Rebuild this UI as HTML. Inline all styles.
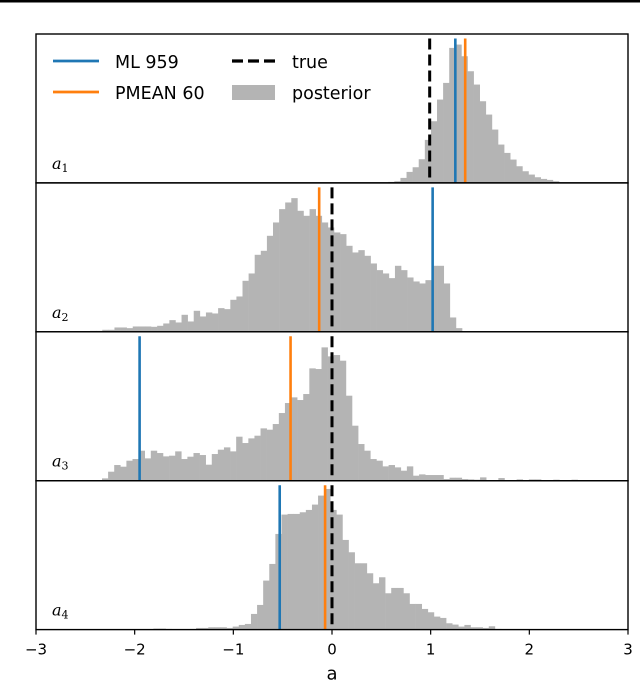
<!DOCTYPE html>
<html><head><meta charset="utf-8"><style>
html,body{margin:0;padding:0;background:#fff;}
svg{display:block;font-family:"DejaVu Sans","Liberation Sans",sans-serif;}
</style></head><body>
<svg id="chart" width="640" height="686" viewBox="0 0 640 686" xmlns="http://www.w3.org/2000/svg">
<rect x="0" y="0" width="640" height="2.5" fill="#000"/>
</svg>
<script>
const binWidth = 0.0618;
const panelNames = ["a1","a2","a3","a4"];
const binStarts = [0.570, -2.452, -2.331, -1.810];
const counts1 = [3,5,15,33,47,71,129,185,250,300,405,415,380,335,295,245,205,160,115,90,70,50,35,25,17,12,9,5];
const counts2 = [3,3,6,6,13,13,11,16,16,16,15,18,25,35,28,51,31,63,46,58,55,71,68,96,106,153,175,231,243,288,328,368,388,401,363,348,368,348,328,313,298,293,258,238,245,228,205,185,175,161,198,185,163,151,145,155,198,198,145,43,11];
const counts3 = [7,27,47,42,60,65,90,67,90,83,73,75,88,65,72,83,77,48,80,93,100,88,132,113,127,135,157,153,170,203,233,250,242,260,337,335,400,373,377,360,255,165,110,90,65,60,43,47,40,30,43,15,19,17,17,17,5,9,9,5,4,3,10,2,2,8,2,2,4,2,4,4,2,2,3,1,1,3];
const counts4 = [3,3,2,1,1,1,2,5,5,7,7,7,5,9,14,17,47,74,147,197,287,345,347,347,352,359,375,402,422,359,345,269,232,199,199,169,139,157,109,125,125,109,77,77,62,52,39,35,19,15,9,14,7,7,5,10,2];
const mlValues = [1.25, 1.02, -1.95, -0.53];
const pmeanValues = [1.35, -0.13, -0.42, -0.07];
const trueValues = [0.99, 0, 0, 0];
const xTicks = [-3,-2,-1,0,1,2,3];
const xTickLabels = ["\u22123","\u22122","\u22121","0","1","2","3"];
const allCounts = [counts1, counts2, counts3, counts4];

const NS = "http://www.w3.org/2000/svg";
const svg = document.getElementById("chart");
const X0 = 36, X1 = 628, PT = 34, PH = 148.9;
function xs(v){ return X0 + (v + 3) / 6 * (X1 - X0); }
function ys(c, bottom){ return bottom - c / 3; }
function mk(tag, attrs){ const e = document.createElementNS(NS, tag); for (const k in attrs) e.setAttribute(k, attrs[k]); svg.appendChild(e); return e; }

for (let p = 0; p < 4; p++) {
  const top = PT + p * PH, bottom = top + PH;
  const g = mk("g", {});
  
  
  const cs = allCounts[p];
  for (let i = 0; i < cs.length; i++) {
    const xl = xs(binStarts[p] + i * binWidth), xr = xs(binStarts[p] + (i + 1) * binWidth);
    const y = ys(cs[i], bottom);
    const r = document.createElementNS(NS, "rect");
    r.setAttribute("x", xl); r.setAttribute("y", y);
    r.setAttribute("width", xr - xl + 0.3); r.setAttribute("height", bottom - y);
    r.setAttribute("fill", "#b4b4b4");
    
    
    g.appendChild(r);
  }
  const lt = top + 4.5;
  const ml = mk("line", {x1: xs(mlValues[p]), x2: xs(mlValues[p]), y1: lt, y2: bottom, stroke: "#1f77b4", "stroke-width": 2.6});
  
  
  const pm = mk("line", {x1: xs(pmeanValues[p]), x2: xs(pmeanValues[p]), y1: lt, y2: bottom, stroke: "#ff7f0e", "stroke-width": 2.6});
  
  
  const tr = mk("line", {x1: xs(trueValues[p]), x2: xs(trueValues[p]), y1: lt, y2: bottom, stroke: "#000", "stroke-width": 3, "stroke-dasharray": "11 5"});
  
  
  const fr = mk("rect", {x: X0, y: top, width: X1 - X0, height: PH, fill: "none", stroke: "#000", "stroke-width": 1.4});
  
  
  const lab = mk("text", {x: 52, y: bottom - 14, "font-family": "'DejaVu Serif','Liberation Serif',serif", "font-style": "italic", "font-size": 16, fill: "#000"});
  
  
  lab.innerHTML = 'a<tspan font-style="normal" font-size="11" dy="3">' + (p + 1) + '</tspan>';
}
const axB = PT + 4 * PH;
for (let i = 0; i < xTicks.length; i++) {
  const x = xs(xTicks[i]);
  const t = mk("line", {x1: x, x2: x, y1: axB, y2: axB + 5, stroke: "#000", "stroke-width": 1.2});
  
  
  const tl = mk("text", {x: x, y: axB + 25, "text-anchor": "middle", "font-size": 15, fill: "#000"});
  
  
  tl.textContent = xTickLabels[i];
}
const xt = mk("text", {x: xs(0), y: axB + 50, "text-anchor": "middle", "font-size": 18, fill: "#000"});


xt.textContent = "a";

// legend
const lg = [
  {kind: "line", color: "#1f77b4", x: 53, y: 61, text: "ML 959", name: "legend-ml"},
  {kind: "line", color: "#ff7f0e", x: 53, y: 92, text: "PMEAN 60", name: "legend-pmean"},
  {kind: "dash", color: "#000", x: 232, y: 61, text: "true", name: "legend-true"},
  {kind: "patch", color: "#b4b4b4", x: 232, y: 92, text: "posterior", name: "legend-posterior"}
];
for (const e of lg) {
  let m;
  if (e.kind === "patch") m = mk("rect", {x: e.x, y: e.y - 7, width: 43, height: 15, fill: e.color});
  else m = mk("line", {x1: e.x, x2: e.x + 46, y1: e.y, y2: e.y, stroke: e.color, "stroke-width": e.kind === "dash" ? 3.2 : 2.8, "stroke-dasharray": e.kind === "dash" ? "11 5" : "none"});
  
  
  const t = mk("text", {x: e.kind === "patch" || e.kind === "dash" ? 292 : 115, y: e.y + 7, "font-size": 17.5, fill: "#000"});
  
  
  t.textContent = e.text;
}
</script>
</body></html>
